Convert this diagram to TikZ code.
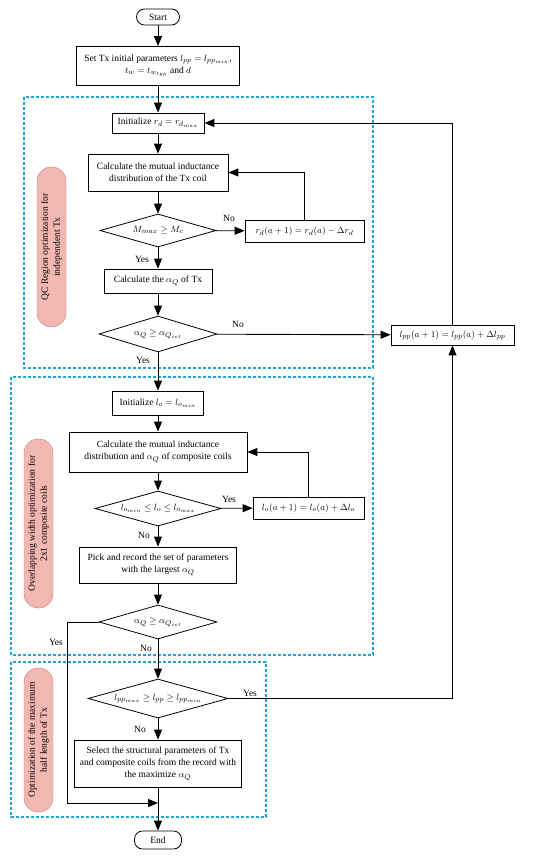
\documentclass[tikz,border=0pt]{standalone}
\usepackage{amsmath,amssymb}
\usepackage{fontspec}
\setmainfont{Liberation Serif}
\usetikzlibrary{arrows.meta,shapes.geometric,positioning}

\definecolor{frameblue}{RGB}{32,162,216}
\definecolor{tagpink}{RGB}{243,183,178}
\definecolor{tagedge}{RGB}{190,130,125}

\begin{document}
\begin{tikzpicture}[x=1pt,y=-1pt,
    font=\fontsize{9.5}{12}\selectfont,
    box/.style={draw, line width=0.8pt, align=center, inner sep=1pt},
    term/.style={draw, line width=0.8pt, rounded corners=8pt, inner sep=1pt},
    cond/.style={draw, diamond, line width=0.8pt, inner sep=0pt, aspect=3},
    tag/.style={draw=tagedge, fill=tagpink, rounded corners=14pt, rotate=90, align=center, inner sep=1pt, minimum height=29pt},
    region/.style={draw=frameblue, line width=1.2pt, dash pattern=on 3pt off 2pt},
    lbl/.style={inner sep=0pt},
    arr/.style={-{Triangle[length=10pt,width=8pt]}, line width=0.9pt}
]
\useasboundingbox (0,0) rectangle (550,858);

% frames of the three stages
\draw[region] (24,97) rectangle (373,368);
\draw[region] (11,377) rectangle (373,655);
\draw[region] (11,662) rectangle (266,817);

\node[tag, minimum width=160pt] (tagqc) at (51.5,247) {QC Region optimization for\\independent Tx};
\node[tag, minimum width=169pt] (tagow) at (38.5,523.5) {Overlapping width optimization for\\2x1 composite coils};
\node[tag, minimum width=144pt] (taghl) at (38.5,740) {Optimization of the maximum\\half length of Tx};

% main column
\node[term, minimum width=43pt, minimum height=16pt] (start) at (158,17) {Start};
\node[box, minimum width=163pt, minimum height=39pt] (init) at (158,66) {Set Tx initial parameters $l_{pp}=l_{pp_{min}}$,\\$t_w=t_{w_{typ}}$ and $d$};
\node[box, minimum width=92pt, minimum height=20pt] (initr) at (158,123) {Initialize $r_d=r_{d_{max}}$};
\node[box, minimum width=140pt, minimum height=37pt] (calcm) at (158,172.5) {Calculate the mutual inductance\\distribution of the Tx coil};
\node[cond, minimum width=116pt, minimum height=33pt] (dm) at (158,230.5) {$M_{max}\geq M_c$};
\node[box, minimum width=119pt, minimum height=22pt] (rdupd) at (304.5,231) {$r_d(a+1)=r_d(a)-\Delta r_d$};
\node[box, minimum width=108pt, minimum height=24pt] (calca) at (158,281) {Calculate the $\alpha_Q$ of Tx};
\node[cond, minimum width=118pt, minimum height=36pt] (da) at (158,334) {$\alpha_Q\geq\alpha_{Q_{set}}$};
\node[box, minimum width=123pt, minimum height=20pt] (lppupd) at (452.5,335) {$l_{pp}(a+1)=l_{pp}(a)+\Delta l_{pp}$};

\node[box, minimum width=91pt, minimum height=24pt] (initl) at (158,403) {Initialize $l_o=l_{o_{min}}$};
\node[box, minimum width=178pt, minimum height=40pt] (calcc) at (158,452) {Calculate the mutual inductance\\distribution and $\alpha_Q$ of composite coils};
\node[cond, minimum width=126pt, minimum height=35pt] (dl) at (158,508.5) {$l_{o_{min}}\leq l_o\leq l_{o_{max}}$};
\node[box, minimum width=111pt, minimum height=22pt] (loupd) at (308.5,508) {$l_o(a+1)=l_o(a)+\Delta l_o$};
\node[box, minimum width=157pt, minimum height=36pt] (pick) at (158,565) {Pick and record the set of parameters\\with the largest $\alpha_Q$};
\node[cond, minimum width=118pt, minimum height=34pt] (das) at (158,622) {$\alpha_Q\geq\alpha_{Q_{set}}$};

\node[cond, minimum width=140pt, minimum height=39pt] (dlpp) at (158,698.5) {$l_{pp_{max}}\geq l_{pp}\geq l_{pp_{min}}$};
\node[box, minimum width=167pt, minimum height=47pt] (sel) at (158,763.5) {Select the structural parameters of Tx\\and composite coils from the record with\\the maximize $\alpha_Q$};
\node[term, minimum width=47pt, minimum height=18pt] (end) at (158,840) {End};

\coordinate (skipa) at (67,622);
\coordinate (skipb) at (67,803);
\coordinate (merge) at (158,803);

% branch labels
\node[lbl] (nom) at (229,218) {No};
\node[lbl] (yesm) at (142,259) {Yes};
\node[lbl] (noa) at (238,324) {No};
\node[lbl] (yesa) at (143,360) {Yes};
\node[lbl] (yesl) at (229,499) {Yes};
\node[lbl] (nol) at (144,535) {No};
\node[lbl] (yess) at (56,642) {Yes};
\node[lbl] (nos) at (146,648) {No};
\node[lbl] (yesp) at (250,693) {Yes};
\node[lbl] (nop) at (140,729) {No};

% connectors
\draw[arr] (start) -- (init);
\draw[arr] (init) -- (initr);
\draw[arr] (initr) -- (calcm);
\draw[arr] (calcm) -- (dm);
\draw[arr] (dm) -- (rdupd);
\draw[arr] (rdupd.north) |- (calcm.east);
\draw[arr] (dm) -- (calca);
\draw[arr] (calca) -- (da);
\draw[arr] (da) -- (lppupd);
\draw[arr] (lppupd.north) |- (initr.east);
\draw[arr] (da) -- (initl);
\draw[arr] (initl) -- (calcc);
\draw[arr] (calcc) -- (dl);
\draw[arr] (dl) -- (loupd);
\draw[arr] (loupd.north) |- (calcc.east);
\draw[arr] (dl) -- (pick);
\draw[arr] (pick) -- (das);
\draw[arr] (das) -- (dlpp);
\draw[line width=0.9pt] (das.west) -- (skipa) -- (skipb);
\draw[arr] (skipb) -- (merge);
\draw[arr] (dlpp.east) -| (lppupd.south);
\draw[arr] (dlpp) -- (sel);
\draw[arr] (sel.south) -- (end);
\end{tikzpicture}
\end{document}
